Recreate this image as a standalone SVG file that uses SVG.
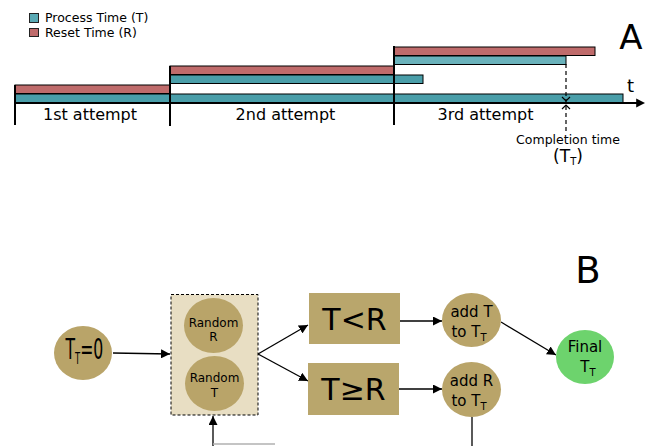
<svg xmlns="http://www.w3.org/2000/svg" width="646" height="446" viewBox="0 0 646 446">
  <defs>
    <marker id="arr" viewBox="0 0 10 10" refX="10" refY="5" markerWidth="9" markerHeight="9" markerUnits="userSpaceOnUse" orient="auto">
      <path d="M0,0 L10,5 L0,10 z" fill="#000"/>
    </marker>
    <marker id="axisArr" viewBox="0 0 10 10" refX="2" refY="5" markerWidth="9" markerHeight="11" markerUnits="userSpaceOnUse" orient="auto">
      <path d="M0,0 L10,5 L0,10 z" fill="#000"/>
    </marker>
    <style>
      text, tspan { font-family: "DejaVu Sans", "Liberation Sans", sans-serif; fill: #000; }
      .red { fill: #bf6b6b; stroke: #000; stroke-width: 1; }
      .teal { fill: #4a9ea9; stroke: #000; stroke-width: 1; }
      .teal-l { fill: #6ab2bb; stroke: #000; stroke-width: 1; }
      .tick { stroke: #000; stroke-width: 2; }
      .node { fill: #b9a469; }
      .cond { fill: #b9a66c; }
      .edge { stroke: #000; stroke-width: 1.3; fill: none; }
      .lbl { font-size: 15px; text-anchor: middle; }
      .rnd { font-size: 12px; text-anchor: middle; }
      .att { font-size: 16px; text-anchor: middle; }
    </style>
  </defs>

  <!-- Panel A: timeline of attempts -->
  <g id="legend">
    <rect x="29.5" y="13.5" width="9" height="9" fill="#5aaab5" stroke="#222" stroke-width="1"/>
    <text x="45" y="21.5" font-size="12.5">Process Time (T)</text>
    <rect x="29.5" y="28.5" width="9" height="8" fill="#bf6b6b" stroke="#222" stroke-width="1"/>
    <text x="45" y="36.5" font-size="12.5">Reset Time (R)</text>
  </g>

  <g id="bars">
    <rect class="teal" x="15" y="94" width="608" height="8.5"/>
    <rect class="red" x="15" y="85" width="155" height="8.5"/>
    <rect class="red" x="170" y="66" width="224" height="8.5"/>
    <rect class="teal" x="170" y="75" width="253" height="8.5"/>
    <rect class="red" x="394" y="47" width="201" height="8.5"/>
    <rect class="teal-l" x="394" y="56" width="172" height="8.5"/>
  </g>

  <g id="axis">
    <line x1="15" y1="103" x2="638" y2="103" stroke="#000" stroke-width="2" marker-end="url(#axisArr)"/>
    <line class="tick" x1="15" y1="85" x2="15" y2="125"/>
    <line class="tick" x1="170" y1="66" x2="170" y2="126"/>
    <line class="tick" x1="394" y1="46" x2="394" y2="125"/>
    <text x="627" y="92" font-size="18">t</text>
    <text x="631" y="49" font-size="34" text-anchor="middle">A</text>
  </g>

  <g id="attempt-labels">
    <text class="att" x="90" y="120">1st attempt</text>
    <text class="att" x="285.5" y="120">2nd attempt</text>
    <text class="att" x="485.5" y="120">3rd attempt</text>
  </g>

  <g id="completion">
    <line x1="566" y1="64" x2="566" y2="131" stroke="#000" stroke-width="1.2" stroke-dasharray="4,3"/>
    <polyline points="562,97 566,101 570,97" fill="none" stroke="#000" stroke-width="1.2"/>
    <polyline points="562,109 566,105 570,109" fill="none" stroke="#000" stroke-width="1.2"/>
    <text x="568" y="144" font-size="12.5" text-anchor="middle">Completion time</text>
    <text x="568" y="162" font-size="17" text-anchor="middle">(T<tspan font-size="10" dy="3">T</tspan><tspan dy="-3">)</tspan></text>
  </g>

  <!-- Panel B: flow of one attempt -->
  <text x="588" y="283" font-size="37" text-anchor="middle">B</text>

  <g id="connectors">
    <line class="edge" x1="113" y1="353" x2="170" y2="354" marker-end="url(#arr)"/>
    <line class="edge" x1="258" y1="354" x2="308" y2="325" marker-end="url(#arr)"/>
    <line class="edge" x1="258" y1="354" x2="308" y2="381" marker-end="url(#arr)"/>
    <line class="edge" x1="400" y1="321" x2="442" y2="321" marker-end="url(#arr)"/>
    <line class="edge" x1="399" y1="389" x2="442" y2="389" marker-end="url(#arr)"/>
    <line class="edge" x1="501" y1="322" x2="556" y2="355" marker-end="url(#arr)"/>
    <line class="edge" x1="472" y1="417" x2="472" y2="446"/>
    <line class="edge" x1="213" y1="446" x2="213" y2="416" marker-end="url(#arr)"/>
    <line x1="213" y1="444" x2="275" y2="444" stroke="#b0b0b0" stroke-width="1.3"/>
  </g>

  <g id="start">
    <ellipse class="node" cx="83" cy="353" rx="29" ry="27"/>
    <g transform="translate(65.5,359) scale(0.56,1)">
      <text x="0" y="0" font-size="28">T<tspan font-size="15" dy="5" fill="#000">T</tspan><tspan dy="-5" fill="#000">=0</tspan></text>
    </g>
  </g>

  <g id="sampler">
    <rect x="171" y="294.5" width="87" height="120.5" fill="#e8dec3" stroke="#000" stroke-width="1" stroke-dasharray="3,2"/>
    <ellipse class="node" cx="213.5" cy="325.5" rx="29.5" ry="27.5"/>
    <text class="rnd" x="213.5" y="327">Random</text>
    <text class="rnd" x="213.5" y="341">R</text>
    <ellipse class="node" cx="214.5" cy="383.5" rx="29.5" ry="27.5"/>
    <text class="rnd" x="214.5" y="382">Random</text>
    <text class="rnd" x="214.5" y="397">T</text>
  </g>

  <g id="cond-less">
    <rect class="cond" x="309" y="293" width="91" height="51"/>
    <text x="354.5" y="330" font-size="30" text-anchor="middle">T&lt;R</text>
  </g>

  <g id="cond-geq">
    <rect class="cond" x="308" y="363" width="91" height="52"/>
    <text x="353.5" y="400" font-size="30" text-anchor="middle">T≥R</text>
  </g>

  <g id="add-t">
    <ellipse class="node" cx="471.5" cy="320" rx="29.5" ry="27"/>
    <text class="lbl" x="471.5" y="317">add T</text>
    <text class="lbl" x="469" y="337">to T<tspan font-size="10" dy="4">T</tspan></text>
  </g>

  <g id="add-r">
    <ellipse class="node" cx="471.5" cy="389.5" rx="29.5" ry="27.5"/>
    <text class="lbl" x="471.5" y="386">add R</text>
    <text class="lbl" x="469" y="406">to T<tspan font-size="10" dy="4">T</tspan></text>
  </g>

  <g id="final">
    <ellipse cx="585" cy="357" rx="29" ry="27" fill="#6dd36d"/>
    <text class="lbl" x="585" y="352">Final</text>
    <text class="lbl" x="588" y="372">T<tspan font-size="10" dy="4">T</tspan></text>
  </g>
</svg>
